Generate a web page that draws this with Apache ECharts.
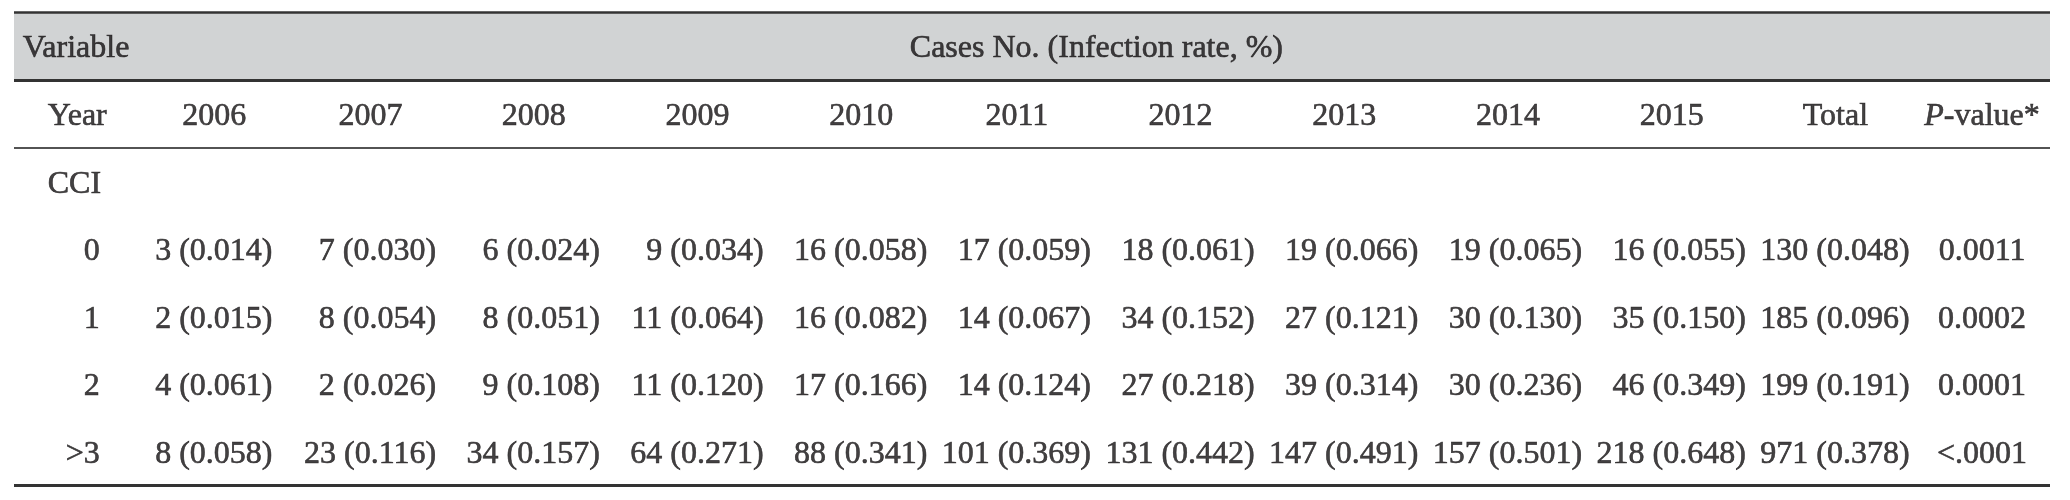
<!DOCTYPE html>
<html>
<head>
<meta charset="utf-8">
<script src="https://cdn.jsdelivr.net/npm/echarts@6/dist/echarts.min.js"></script>
<style>
html,body{margin:0;padding:0;background:#fff;}
#chart{width:2070px;height:500px;}
</style>
</head>
<body>
<div id="chart"></div>
<script>
// ---- data ----
const titleText = 'Cases No. (Infection rate, %)';
const variableLabel = 'Variable';
const yearLabel = 'Year';
const groupLabel = 'CCI';
const columns = ['2006','2007','2008','2009','2010','2011','2012','2013','2014','2015','Total'];
const pHeader = 'P-value*';
const rowLabels = ['0','1','2','>3'];
const cases0 = [3,7,6,9,16,17,18,19,19,16,130];
const cases1 = [2,8,8,11,16,14,34,27,30,35,185];
const cases2 = [4,2,9,11,17,14,27,39,30,46,199];
const cases3 = [8,23,34,64,88,101,131,147,157,218,971];
const rates0 = [0.014,0.030,0.024,0.034,0.058,0.059,0.061,0.066,0.065,0.055,0.048];
const rates1 = [0.015,0.054,0.051,0.064,0.082,0.067,0.152,0.121,0.130,0.150,0.096];
const rates2 = [0.061,0.026,0.108,0.120,0.166,0.124,0.218,0.314,0.236,0.349,0.191];
const rates3 = [0.058,0.116,0.157,0.271,0.341,0.369,0.442,0.491,0.501,0.648,0.378];
const pValues = ['0.0011','0.0002','0.0001','<.0001'];

// ---- build ----
const cases = [cases0, cases1, cases2, cases3];
const rates = [rates0, rates1, rates2, rates3];
const FONT = '"Liberation Serif", "Times New Roman", serif';
const FS = 32;
const TXT = '#141213';
const DY = 3;
const measureCtx = document.createElement('canvas').getContext('2d');
measureCtx.font = FS + 'px ' + FONT;
const tw = s => measureCtx.measureText(s).width;
const cellText = (r, c) => cases[r][c] + ' (' + rates[r][c].toFixed(3) + ')';

const ROW_HEADER = 0, ROW_YEAR = 1, ROW_GROUP = 2, ROW_FIRST = 3;
const baseLabel = {show: true, fontFamily: FONT, fontSize: FS, color: TXT,
  textBorderColor: TXT, textBorderWidth: 0.6};
const invisible = {color: 'rgba(0,0,0,0)'};

// body cells, right aligned at column anchor
const bodyData = [];
for (let r = 0; r < rowLabels.length; r++) {
  for (let c = 0; c < columns.length; c++) {
    bodyData.push({value: [c + 1, ROW_FIRST + r], name: cellText(r, c)});
  }
}
// column headers, centred on the widest entry of each column
const headData = columns.map((h, c) => {
  let w = 0;
  for (let r = 0; r < rowLabels.length; r++) w = Math.max(w, tw(cellText(r, c)));
  return {value: [c + 1, ROW_YEAR], name: h, label: {offset: [-w / 2, DY]}};
});
// p-value column
const pData = pValues.map((p, r) => ({value: [columns.length, ROW_FIRST + r], name: p}));
pData.push({value: [columns.length, ROW_YEAR], name: pHeader,
  label: {formatter: '{i|P}-value*'}});
// row labels
const rowData = rowLabels.map((l, r) => ({value: [0, ROW_FIRST + r], name: l}));
const leftData = [
  {value: [0, ROW_YEAR], name: yearLabel},
  {value: [0, ROW_GROUP], name: groupLabel}
];
// title centred across the data columns
const titleX = (1 + columns.length) / 2 + 0.03;

const common = {type: 'scatter', symbolSize: 1, itemStyle: invisible, clip: false, silent: true, animation: false};

const option = {
  animation: false,
  backgroundColor: '#ffffff',
  grid: {left: 14, right: 20, top: 0, bottom: 0},
  xAxis: {type: 'value', min: -0.582, max: 11.855, show: false},
  yAxis: {type: 'value', inverse: true, min: -0.68, max: 6.716, show: false},
  series: [
    Object.assign({}, common, {
      data: bodyData,
      label: Object.assign({}, baseLabel, {position: 'left', distance: 0, offset: [0, DY], formatter: p => p.name})
    }),
    Object.assign({}, common, {
      data: headData,
      label: Object.assign({}, baseLabel, {position: 'inside', align: 'center', verticalAlign: 'middle', formatter: p => p.name}),
      markArea: {
        silent: true,
        itemStyle: {color: '#d1d3d4'},
        data: [[{yAxis: ROW_HEADER - 0.5}, {yAxis: ROW_HEADER + 0.5}]]
      },
      markLine: {
        silent: true, symbol: 'none', label: {show: false},
        data: [
          {yAxis: ROW_HEADER - 0.5, lineStyle: {color: '#333333', width: 2.5, type: 'solid'}},
          {yAxis: ROW_HEADER + 0.5, lineStyle: {color: '#333333', width: 3, type: 'solid'}},
          {yAxis: ROW_YEAR + 0.5, lineStyle: {color: '#1a1a1a', width: 1.5, type: 'solid'}},
          {yAxis: ROW_FIRST + rowLabels.length - 0.5, lineStyle: {color: '#333333', width: 3, type: 'solid'}}
        ]
      }
    }),
    Object.assign({}, common, {
      data: pData,
      label: Object.assign({}, baseLabel, {position: 'inside', align: 'center', verticalAlign: 'middle', offset: [72, DY],
        formatter: p => p.name,
        rich: {i: {fontFamily: FONT, fontSize: FS, color: TXT, fontStyle: 'italic', textBorderColor: TXT, textBorderWidth: 0.6}}})
    }),
    Object.assign({}, common, {
      data: rowData,
      label: Object.assign({}, baseLabel, {position: 'left', distance: 0, offset: [-9, DY], formatter: p => p.name})
    }),
    Object.assign({}, common, {
      data: leftData,
      label: Object.assign({}, baseLabel, {position: 'right', distance: 0, offset: [-62, DY], formatter: p => p.name})
    }),
    Object.assign({}, common, {
      data: [{value: [0, ROW_HEADER], name: variableLabel}],
      label: Object.assign({}, baseLabel, {position: 'right', distance: 0, offset: [-87, DY], formatter: p => p.name})
    }),
    Object.assign({}, common, {
      data: [{value: [titleX, ROW_HEADER], name: titleText}],
      label: Object.assign({}, baseLabel, {position: 'inside', align: 'center', verticalAlign: 'middle', offset: [0, DY], formatter: p => p.name})
    })
  ]
};
const chart = echarts.init(document.getElementById('chart'), null, {renderer: 'canvas'});
chart.setOption(option);
</script>
</body>
</html>
